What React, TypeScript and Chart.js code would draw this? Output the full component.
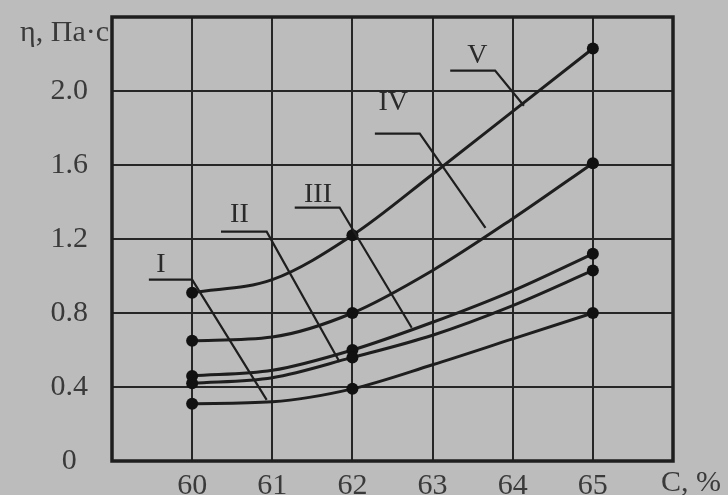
import React, { useEffect, useRef } from 'react';
import { Chart, registerables } from 'chart.js';

Chart.register(...registerables);

// ---- data ----
const xValues = [60, 61, 62, 63, 64, 65];
const markedX = [60, 62, 65];
const seriesNames = ['I', 'II', 'III', 'IV', 'V'];
const seriesI = [0.31, 0.32, 0.39, 0.52, 0.66, 0.8];
const seriesII = [0.42, 0.45, 0.56, 0.68, 0.84, 1.03];
const seriesIII = [0.46, 0.49, 0.6, 0.75, 0.92, 1.12];
const seriesIV = [0.65, 0.67, 0.8, 1.03, 1.31, 1.61];
const seriesV = [0.91, 0.98, 1.22, 1.55, 1.89, 2.23];
const xTickLabels = ['60', '61', '62', '63', '64', '65'];
const yTickLabels = ['0', '0.4', '0.8', '1.2', '1.6', '2.0'];
const yAxisTitle = 'η, Па·с';
const xAxisTitle = 'C, %';

// leader lines of the curve labels (data coordinates)
const leaderStartX = [59.46, 60.36, 61.28, 62.28, 63.22];
const leaderLevelY = [0.98, 1.24, 1.37, 1.77, 2.11];
const leaderCornerX = [60.0, 60.93, 61.84, 62.84, 63.78];
const leaderEndX = [60.93, 61.84, 62.74, 63.66, 64.14];
const leaderEndY = [0.33, 0.535, 0.72, 1.26, 1.92];
const labelX = [59.61, 60.59, 61.57, 62.51, 63.56];
const labelY = [1.02, 1.29, 1.4, 1.9, 2.15];

const allSeries = [seriesI, seriesII, seriesIII, seriesIV, seriesV];

const BG = '#bcbcbc';
const INK = '#1e1e1e';
const TEXT = '#3a3a3a';
const FONT = "'Liberation Serif', 'DejaVu Serif', serif";

const annotatePlugin = {
  id: 'annotate',
  beforeDraw(chart: any) {
    const { ctx, width, height } = chart;
    ctx.save();
    ctx.fillStyle = BG;
    ctx.fillRect(0, 0, width, height);
    ctx.restore();
  },
  afterDraw(chart: any) {
    const { ctx, chartArea } = chart;
    const xs = chart.scales.x;
    const ys = chart.scales.y;
    ctx.save();
    // frame
    ctx.strokeStyle = INK;
    ctx.lineWidth = 3.5;
    ctx.strokeRect(chartArea.left, chartArea.top, chartArea.right - chartArea.left, chartArea.bottom - chartArea.top);
    // leaders
    ctx.lineWidth = 2.2;
    ctx.lineJoin = 'miter';
    for (let i = 0; i < seriesNames.length; i++) {
      ctx.beginPath();
      ctx.moveTo(xs.getPixelForValue(leaderStartX[i]), ys.getPixelForValue(leaderLevelY[i]));
      ctx.lineTo(xs.getPixelForValue(leaderCornerX[i]), ys.getPixelForValue(leaderLevelY[i]));
      ctx.lineTo(xs.getPixelForValue(leaderEndX[i]), ys.getPixelForValue(leaderEndY[i]));
      ctx.stroke();
    }
    // curve labels
    ctx.fillStyle = '#2a2a2a';
    ctx.font = `28px ${FONT}`;
    ctx.textAlign = 'center';
    ctx.textBaseline = 'alphabetic';
    for (let i = 0; i < seriesNames.length; i++) {
      ctx.fillText(seriesNames[i], xs.getPixelForValue(labelX[i]), ys.getPixelForValue(labelY[i]));
    }
    // axis titles
    ctx.fillStyle = TEXT;
    ctx.font = `30px ${FONT}`;
    ctx.textAlign = 'right';
    ctx.fillText(yAxisTitle, chartArea.left - 3, chartArea.top + 24);
    ctx.textAlign = 'left';
    ctx.fillText(xAxisTitle, chartArea.right - 12, chartArea.bottom + 30);
    ctx.restore();
  },
};

export default function App() {
  const canvasRef = useRef<HTMLCanvasElement | null>(null);

  useEffect(() => {
    const canvas = canvasRef.current;
    if (!canvas) return;
    const datasets = allSeries.map((s, i) => ({
      label: seriesNames[i],
      data: xValues.map((x, j) => ({ x, y: s[j] })),
      borderColor: INK,
      backgroundColor: INK,
      borderWidth: 3,
      pointRadius: xValues.map((x) => (markedX.includes(x) ? 6 : 0)),
      pointBackgroundColor: '#111',
      pointBorderWidth: 0,
      cubicInterpolationMode: 'monotone' as const,
      fill: false,
    }));
    const chart = new Chart(canvas, {
      type: 'line',
      data: { datasets },
      plugins: [annotatePlugin],
      options: {
        animation: false,
        responsive: false,
        maintainAspectRatio: false,
        events: [],
        layout: { padding: { top: 17, right: 55, left: 0, bottom: 0 } },
        plugins: { legend: { display: false }, tooltip: { enabled: false }, title: { display: false } },
        scales: {
          x: {
            type: 'linear',
            min: 59,
            max: 66,
            afterFit: (s: any) => {
              s.height = 34;
              s.paddingLeft = 0;
              s.paddingRight = 0;
            },
            ticks: {
              stepSize: 1,
              autoSkip: false,
              maxRotation: 0,
              padding: 10,
              color: TEXT,
              font: { family: FONT, size: 30, lineHeight: 1 },
              callback: (v: any) => {
                const idx = xValues.indexOf(Number(v));
                return idx >= 0 ? xTickLabels[idx] : '';
              },
            },
            grid: { color: '#262626', lineWidth: 2, drawTicks: false },
            border: { display: false },
          },
          y: {
            type: 'linear',
            min: 0,
            max: 2.4,
            afterFit: (s: any) => {
              s.width = 112;
              s.paddingTop = 0;
              s.paddingBottom = 0;
            },
            ticks: {
              stepSize: 0.4,
              crossAlign: 'center',
              padding: 24,
              color: TEXT,
              font: { family: FONT, size: 30, lineHeight: 1 },
              callback: (v: any) => {
                const idx = Math.round(Number(v) / 0.4);
                return idx < yTickLabels.length ? yTickLabels[idx] : '';
              },
            },
            grid: { color: '#262626', lineWidth: 2, drawTicks: false },
            border: { display: false },
          },
        },
      },
    } as any);
    return () => chart.destroy();
  }, []);

  return (
    <div style={{ position: 'fixed', left: 0, top: 0, width: 728, height: 495, background: BG }}>
      <canvas ref={canvasRef} width={728} height={495} style={{ display: 'block', width: 728, height: 495 }} />
    </div>
  );
}
